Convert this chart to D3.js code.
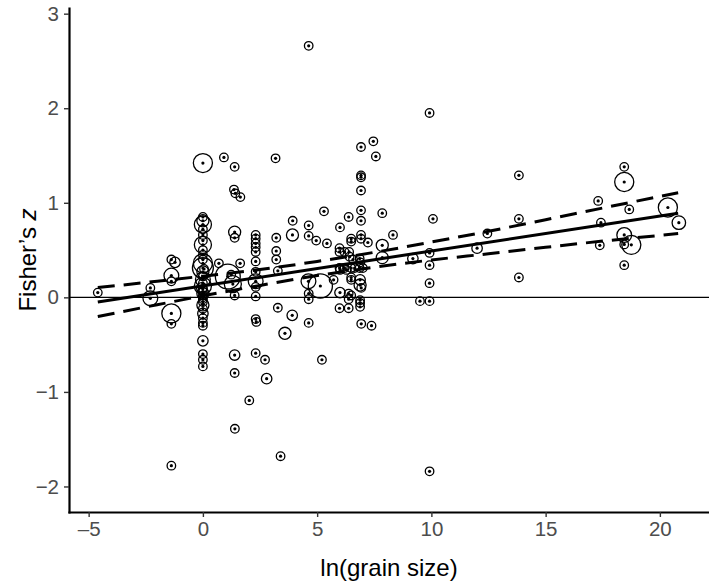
<!DOCTYPE html>
<html>
<head>
<meta charset="utf-8">
<script src="https://cdn.jsdelivr.net/npm/d3@7"></script>
<style>
  body { margin: 0; background: #fff; }
  svg { display: block; font-family: "Liberation Sans", Arial, Helvetica, sans-serif; }
</style>
</head>
<body>
<svg id="chart" width="709" height="584"></svg>
<script>
// ln(grain size), Fisher's z, and study weight for each effect size
const grainSize = [
  -4.6, -2.3, -2.3, -1.38, -1.22, -1.38, -1.38, -1.38, -1.38, -1.38,
  0, 0, 0, 0, 0, 0, 0, 0, 0, 0,
  0, 0, 0, 0, 0, 0, 0, 0, 0, 0,
  0, 0, 0, 0, 0, 0, 0, 0, 0, 0,
  0, 0, 0, 0, 0, 0.05, -0.05,
  0.92, 1.39, 1.36, 1.42, 1.64, 1.39, 1.39, 0.70, 1.63, 1.09,
  1.31, 1.24, 1.39, 1.39, 1.40, 1.39,
  2.31, 2.31, 2.31, 2.31, 2.31, 2.31, 2.31, 2.31, 2.31, 2.31,
  2.31, 2.31, 2.34, 2.03, 2.72, 2.79,
  3.18, 3.21, 3.21, 3.21, 3.28, 3.28, 3.40,
  3.93, 3.92, 3.91, 3.59,
  4.63, 4.63, 4.63, 4.62, 4.63, 4.63, 4.63,
  4.96, 5.30, 5.43, 5.14, 5.72, 5.21,
  6.0, 6.38, 5.98, 5.98, 6.2, 6.4, 6.42, 6.57, 6.49, 6.49,
  5.98, 6.2, 6.49, 6.64, 6.0, 6.28, 6.49, 6.49, 6.0, 6.38,
  6.49, 6.38, 5.98, 6.38,
  6.92, 6.92, 6.92, 6.92, 6.92, 6.92, 6.92, 6.92, 6.86, 6.89,
  6.86, 7.0, 6.88, 6.88, 6.93, 6.88, 6.88, 6.88, 6.93, 7.22, 7.38,
  7.46, 7.57, 7.85, 7.85, 7.85, 8.32,
  9.19, 9.92, 10.07, 9.92, 9.92, 9.92, 9.92, 9.50, 9.92,
  12.0, 12.45, 13.83, 13.83, 13.83,
  17.3, 17.42, 17.37, 18.44, 18.44, 18.66, 18.44, 18.44, 18.75, 18.44,
  20.35, 20.83
]

const fisherZ = [
  0.05, 0.10, -0.01, 0.40, 0.37, 0.23, -0.17, -0.28, -1.78, 0.17,
  1.42, 0.85, 0.81, 0.77, 0.72, 0.66, 0.60, 0.555, 0.50, 0.45,
  0.40, 0.36, 0.31, 0.27, 0.22, 0.19, 0.15, 0.12, 0.09, 0.06,
  0.04, 0.02, 0, -0.02, -0.05, -0.08, -0.12, -0.17, -0.22, -0.27,
  -0.30, -0.46, -0.60, -0.66, -0.73, 0.30, 0.10,
  1.48, 1.38, 1.14, 1.10, 1.06, 0.69, 0.63, 0.36, 0.36, 0.22,
  0.14, 0.24, -0.61, -0.80, -1.39, 0.02,
  0.66, 0.62, 0.57, 0.53, 0.48, 0.38, 0.27, 0.17, 0.11, 0.01,
  -0.23, -0.59, -0.26, -1.09, -0.66, -0.86,
  1.47, 0.63, 0.49, 0.40, 0.28, -0.11, -1.68,
  0.81, 0.66, -0.19, -0.38,
  2.66, 0.76, 0.65, 0.17, 0.04, -0.02, -0.27,
  0.60, 0.91, 0.57, 0.12, 0.185, -0.66,
  0.74, 0.85, 0.52, 0.48, 0.48, 0.48, 0.43, 0.40, 0.62, 0.59,
  0.31, 0.31, 0.31, 0.31, 0.29, 0.29, 0.185, 0.21, 0.05, 0.04,
  0.02, -0.02, -0.115, -0.115,
  1.59, 1.29, 1.27, 1.13, 0.92, 0.81, 0.66, 0.62, 0.41, 0.37,
  0.31, 0.31, 0.185, 0.13, 0.10, -0.03, -0.06, -0.10, -0.28, 0.58, -0.30,
  1.65, 1.49, 0.89, 0.55, 0.42, 0.66,
  0.41, 1.95, 0.83, 0.47, 0.34, 0.15, -0.04, -0.04, -1.84,
  0.52, 0.675, 1.29, 0.83, 0.21,
  1.02, 0.79, 0.55, 1.38, 1.22, 0.93, 0.66, 0.56, 0.555, 0.34,
  0.95, 0.79
]

const weight = [
  1, 1, 3, 1, 1.5, 3, 5, 1, 1, 1,
  5, 1, 2, 4, 1, 1, 1, 4, 1, 1,
  1, 5, 6, 2, 1, 3, 1, 4, 1, 1,
  2, 1, 1, 1, 1, 2, 1, 1.5, 1, 1,
  1, 1.5, 1, 1, 1, 1, 1.5,
  1, 1, 1, 1, 1, 2, 1, 1, 1, 8.5,
  4, 1, 1.5, 1, 1, 1,
  1, 1, 1, 1, 1, 1, 1, 3, 1, 1,
  1, 1, 1, 1, 1, 1.5,
  1, 1, 1, 1, 1, 1, 1,
  1, 2, 1.5, 2,
  1, 1, 1, 3, 1, 1, 1,
  1, 1, 1, 8, 1, 1,
  1, 1, 1, 1, 1, 1, 1, 1, 1, 1,
  1, 1, 1, 1, 1, 1, 1, 1, 1.5, 1,
  1, 1, 1, 1,
  1, 1, 1, 1, 1, 1, 1, 1, 1, 1,
  1, 1, 1.5, 2, 1, 1, 1, 1, 1, 1, 1,
  1, 1, 1, 2, 2, 1,
  1.5, 1, 1, 1, 1, 1, 1, 1, 1,
  1.5, 1, 1, 1, 1,
  1, 1, 1, 1, 5, 1, 3, 1, 5, 1,
  5, 2.5
]

// meta-regression fit and confidence band
const fitX = [-4.6, 20.8]
const fitY = [-0.05, 0.89]
const bandX = [-4.6, -2, 0, 2.5, 5, 7.5, 10, 12.5, 15, 17.5, 20.8]
const bandLower = [-0.203, -0.078, 0.016, 0.126, 0.23, 0.318, 0.395, 0.461, 0.529, 0.595, 0.674]
const bandUpper = [0.103, 0.170, 0.224, 0.294, 0.38, 0.476, 0.585, 0.699, 0.821, 0.945, 1.106]

const xTicks = [-5, 0, 5, 10, 15, 20]
const yTicks = [-2, -1, 0, 1, 2, 3]

const width = 709
const height = 584
const margin = { top: 8, right: 0, bottom: 72, left: 69 }

const svg = d3.select('#chart')

const x = d3.scaleLinear()
  .domain([-5.86, 22.15])
  .range([margin.left, width - margin.right])

const y = d3.scaleLinear()
  .domain([-2.27, 3.06])
  .range([height - margin.bottom, margin.top])

const r = d3.scaleSqrt().domain([0, 10]).range([0, 13.5])

// zero reference line
svg.append('line')
  .attr('x1', x.range()[0]).attr('x2', x.range()[1])
  .attr('y1', y(0)).attr('y2', y(0))
  .attr('stroke', '#000')
  .attr('stroke-width', 1.2)

const points = grainSize.map((g, i) => ({ x: g, y: fisherZ[i], w: weight[i] }))

const pts = svg.append('g')
pts.selectAll('circle.ring')
  .data(points)
  .join('circle')
  .attr('class', 'ring')
  .attr('cx', d => x(d.x))
  .attr('cy', d => y(d.y))
  .attr('r', d => r(d.w))
  .attr('fill', 'none')
  .attr('stroke', '#000')
  .attr('stroke-width', 1.3)

pts.selectAll('circle.dot')
  .data(points)
  .join('circle')
  .attr('class', 'dot')
  .attr('cx', d => x(d.x))
  .attr('cy', d => y(d.y))
  .attr('r', 1.6)
  .attr('fill', '#000')

// regression line and CI
const line = d3.line().x(d => x(d[0])).y(d => y(d[1])).curve(d3.curveMonotoneX)

svg.append('path')
  .attr('d', line(fitX.map((v, i) => [v, fitY[i]])))
  .attr('fill', 'none')
  .attr('stroke', '#000')
  .attr('stroke-width', 3)

;[bandLower, bandUpper].forEach(arr => {
  svg.append('path')
    .attr('d', line(bandX.map((v, i) => [v, arr[i]])))
    .attr('fill', 'none')
    .attr('stroke', '#000')
    .attr('stroke-width', 3)
    .attr('stroke-dasharray', '17,9')
})

// axes
const xAxis = svg.append('g')
  .attr('transform', `translate(0,${height - margin.bottom})`)
  .call(d3.axisBottom(x).tickValues(xTicks).tickSize(5).tickSizeOuter(0).tickPadding(4)
    .tickFormat(d => d < 0 ? '\u2013' + Math.abs(d) : d))

const yAxis = svg.append('g')
  .attr('transform', `translate(${margin.left},0)`)
  .call(d3.axisLeft(y).tickValues(yTicks).tickSize(5).tickSizeOuter(0).tickPadding(5)
    .tickFormat(d => d < 0 ? '\u2212' + Math.abs(d) : d))

;[xAxis, yAxis].forEach(a => {
  a.select('.domain').attr('stroke', '#000').attr('stroke-width', 2.2).attr('stroke-linecap', 'square')
  a.selectAll('.tick line').attr('stroke', '#333').attr('stroke-width', 1.4)
  a.selectAll('.tick text')
    .attr('fill', '#4d4d4d')
    .attr('font-size', 20.5)
    .attr('font-family', '"Liberation Sans", Arial, sans-serif')
})

// titles
svg.append('text')
  .attr('x', (margin.left + width - margin.right) / 2)
  .attr('y', 576)
  .attr('text-anchor', 'middle')
  .attr('font-size', 24)
  .attr('fill', '#000')
  .text('ln(grain size)')

const yt = svg.append('text')
  .attr('transform', `translate(36,${(margin.top + height - margin.bottom) / 2}) rotate(-90)`)
  .attr('text-anchor', 'middle')
  .attr('font-size', 24)
  .attr('fill', '#000')
yt.append('tspan').text('Fisher\u2019s ')
yt.append('tspan').attr('font-style', 'italic').text('z')
</script>
</body>
</html>
